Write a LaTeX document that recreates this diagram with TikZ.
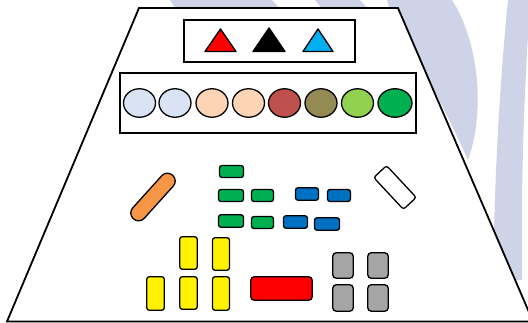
\documentclass[tikz,border=0pt]{standalone}
\usetikzlibrary{shapes.geometric}

\definecolor{wmark}{RGB}{207,211,232}
\definecolor{paleblue}{HTML}{DAE3F3}
\definecolor{peach}{HTML}{FBD5B5}
\definecolor{brick}{HTML}{C0504D}
\definecolor{olive}{HTML}{948A54}
\definecolor{lime}{HTML}{92D050}
\definecolor{grass}{HTML}{00B050}
\definecolor{sea}{HTML}{0070C0}
\definecolor{sky}{HTML}{00B0F0}
\definecolor{tan}{HTML}{F79646}
\definecolor{stone}{HTML}{A5A5A5}

\tikzset{
	panel/.style={draw, line width=1.6pt, inner sep=0pt},
	knob/.style={ellipse, draw, line width=1.3pt, inner sep=0pt, minimum width=32pt, minimum height=28.5pt},
	key/.style={rectangle, draw, line width=1.3pt, rounded corners=2.5pt, inner sep=0pt},
	flag/.style={draw, line width=1.3pt, line join=round}
}

\begin{document}
\begin{tikzpicture}[x=1pt,y=-1pt]
\useasboundingbox (0,0) rectangle (528,323);

% Watermark in the background
\fill[wmark] (170,0) -- (272,0) -- (281,10) -- (176,10) -- cycle;
\fill[wmark] (315,0) -- (360,0) -- (369,10) -- (323,10) -- cycle;
\fill[wmark] (387,0) -- (452,0) .. controls (478,40) and (486,110) .. (468,160) .. controls (450,120) and (420,60) .. (390,10) -- cycle;
\fill[wmark] (508,0) -- (530,0) .. controls (524,100) and (521,170) .. (522,280) -- (493,280) .. controls (494,200) and (498,100) .. (508,0) -- cycle;

% Table (trapezoid)
\draw[line width=1.8pt, fill=white] (139,8) -- (398,8) -- (533,321.5) -- (7,321.5) -- cycle;

%%%%%%%%%%%% Top shelf %%%%%%%%%%%%%%%%%%%

% Triangles
\node[panel, minimum width=171pt, minimum height=42.5pt] (tribox) at (269.5,41) {};
\filldraw[flag, fill=red] (205,51.5) -- (236,51.5) -- (220.5,29) -- cycle;
\filldraw[flag, fill=black] (253,51.5) -- (285,51.5) -- (269,28) -- cycle;
\filldraw[flag, fill=sky] (303,51.5) -- (333,51.5) -- (318,29) -- cycle;

% Ellipses
\node[panel, minimum width=296.5pt, minimum height=60.5pt] (dotbox) at (268,103) {};
\node[knob, fill=paleblue] (e1) at (139.5,103) {};
\node[knob, fill=paleblue] (e2) at (175,103) {};
\node[knob, fill=peach] (e3) at (212,103) {};
\node[knob, fill=peach] (e4) at (248.5,103) {};
\node[knob, fill=brick] (e5) at (284.5,103) {};
\node[knob, fill=olive] (e6) at (321,103) {};
\node[knob, fill=lime] (e7) at (357.5,103) {};
\node[knob, fill=grass, minimum width=34pt] (e8) at (395,103) {};

%%%%%%%%%%%% Middle %%%%%%%%%%%%%%%%%%%

% Orange bar on the left
\node[key, fill=tan, rounded corners=7.5pt, minimum width=58.5pt, minimum height=15.5pt, rotate=48] (orange) at (153,197) {};
% White box on the right
\node[key, fill=white, minimum width=43.5pt, minimum height=17.5pt, rotate=-47] (white) at (395,187.5) {};

% Green keys
\node[key, fill=grass, minimum width=24pt, minimum height=12pt] (g1) at (231.5,171.5) {};
\node[key, fill=grass, minimum width=25pt, minimum height=12pt] (g2) at (231,195.5) {};
\node[key, fill=grass, minimum width=22pt, minimum height=12pt] (g3) at (262.5,195.5) {};
\node[key, fill=grass, minimum width=25pt, minimum height=12.5pt] (g4) at (231,221) {};
\node[key, fill=grass, minimum width=22pt, minimum height=12pt] (g5) at (262.5,222.5) {};
% Blue keys
\node[key, fill=sea, minimum width=23pt, minimum height=12.5pt] (b1) at (307,194) {};
\node[key, fill=sea, minimum width=23pt, minimum height=12pt] (b2) at (339,195.5) {};
\node[key, fill=sea, minimum width=24pt, minimum height=12.5pt] (b3) at (295.5,222) {};
\node[key, fill=sea, minimum width=25pt, minimum height=12.5pt] (b4) at (327,224) {};

%%%%%%%%%%%% Bottom %%%%%%%%%%%%%%%%%%%

% Yellow keys
\node[key, fill=yellow, minimum width=17.5pt, minimum height=32.5pt] (y1) at (188.5,253) {};
\node[key, fill=yellow, minimum width=17pt, minimum height=32.5pt] (y2) at (221,254) {};
\node[key, fill=yellow, minimum width=17.5pt, minimum height=33.5pt] (y3) at (155.5,293.5) {};
\node[key, fill=yellow, minimum width=17.5pt, minimum height=32.5pt] (y4) at (188.5,293) {};
\node[key, fill=yellow, minimum width=17pt, minimum height=33.5pt] (y5) at (221,293.5) {};

% Red key
\node[key, fill=red, rounded corners=3.5pt, minimum width=61.5pt, minimum height=23.5pt] (redkey) at (281.5,288.5) {};

% Gray keys
\node[key, fill=stone, rounded corners=3.5pt, minimum width=20.5pt, minimum height=25.5pt] (s1) at (343,265.5) {};
\node[key, fill=stone, rounded corners=3.5pt, minimum width=20.5pt, minimum height=25.5pt] (s2) at (378,265.5) {};
\node[key, fill=stone, rounded corners=3.5pt, minimum width=20.5pt, minimum height=26.5pt] (s3) at (343,298) {};
\node[key, fill=stone, rounded corners=3.5pt, minimum width=20.5pt, minimum height=26.5pt] (s4) at (378,298) {};

\end{tikzpicture}
\end{document}
